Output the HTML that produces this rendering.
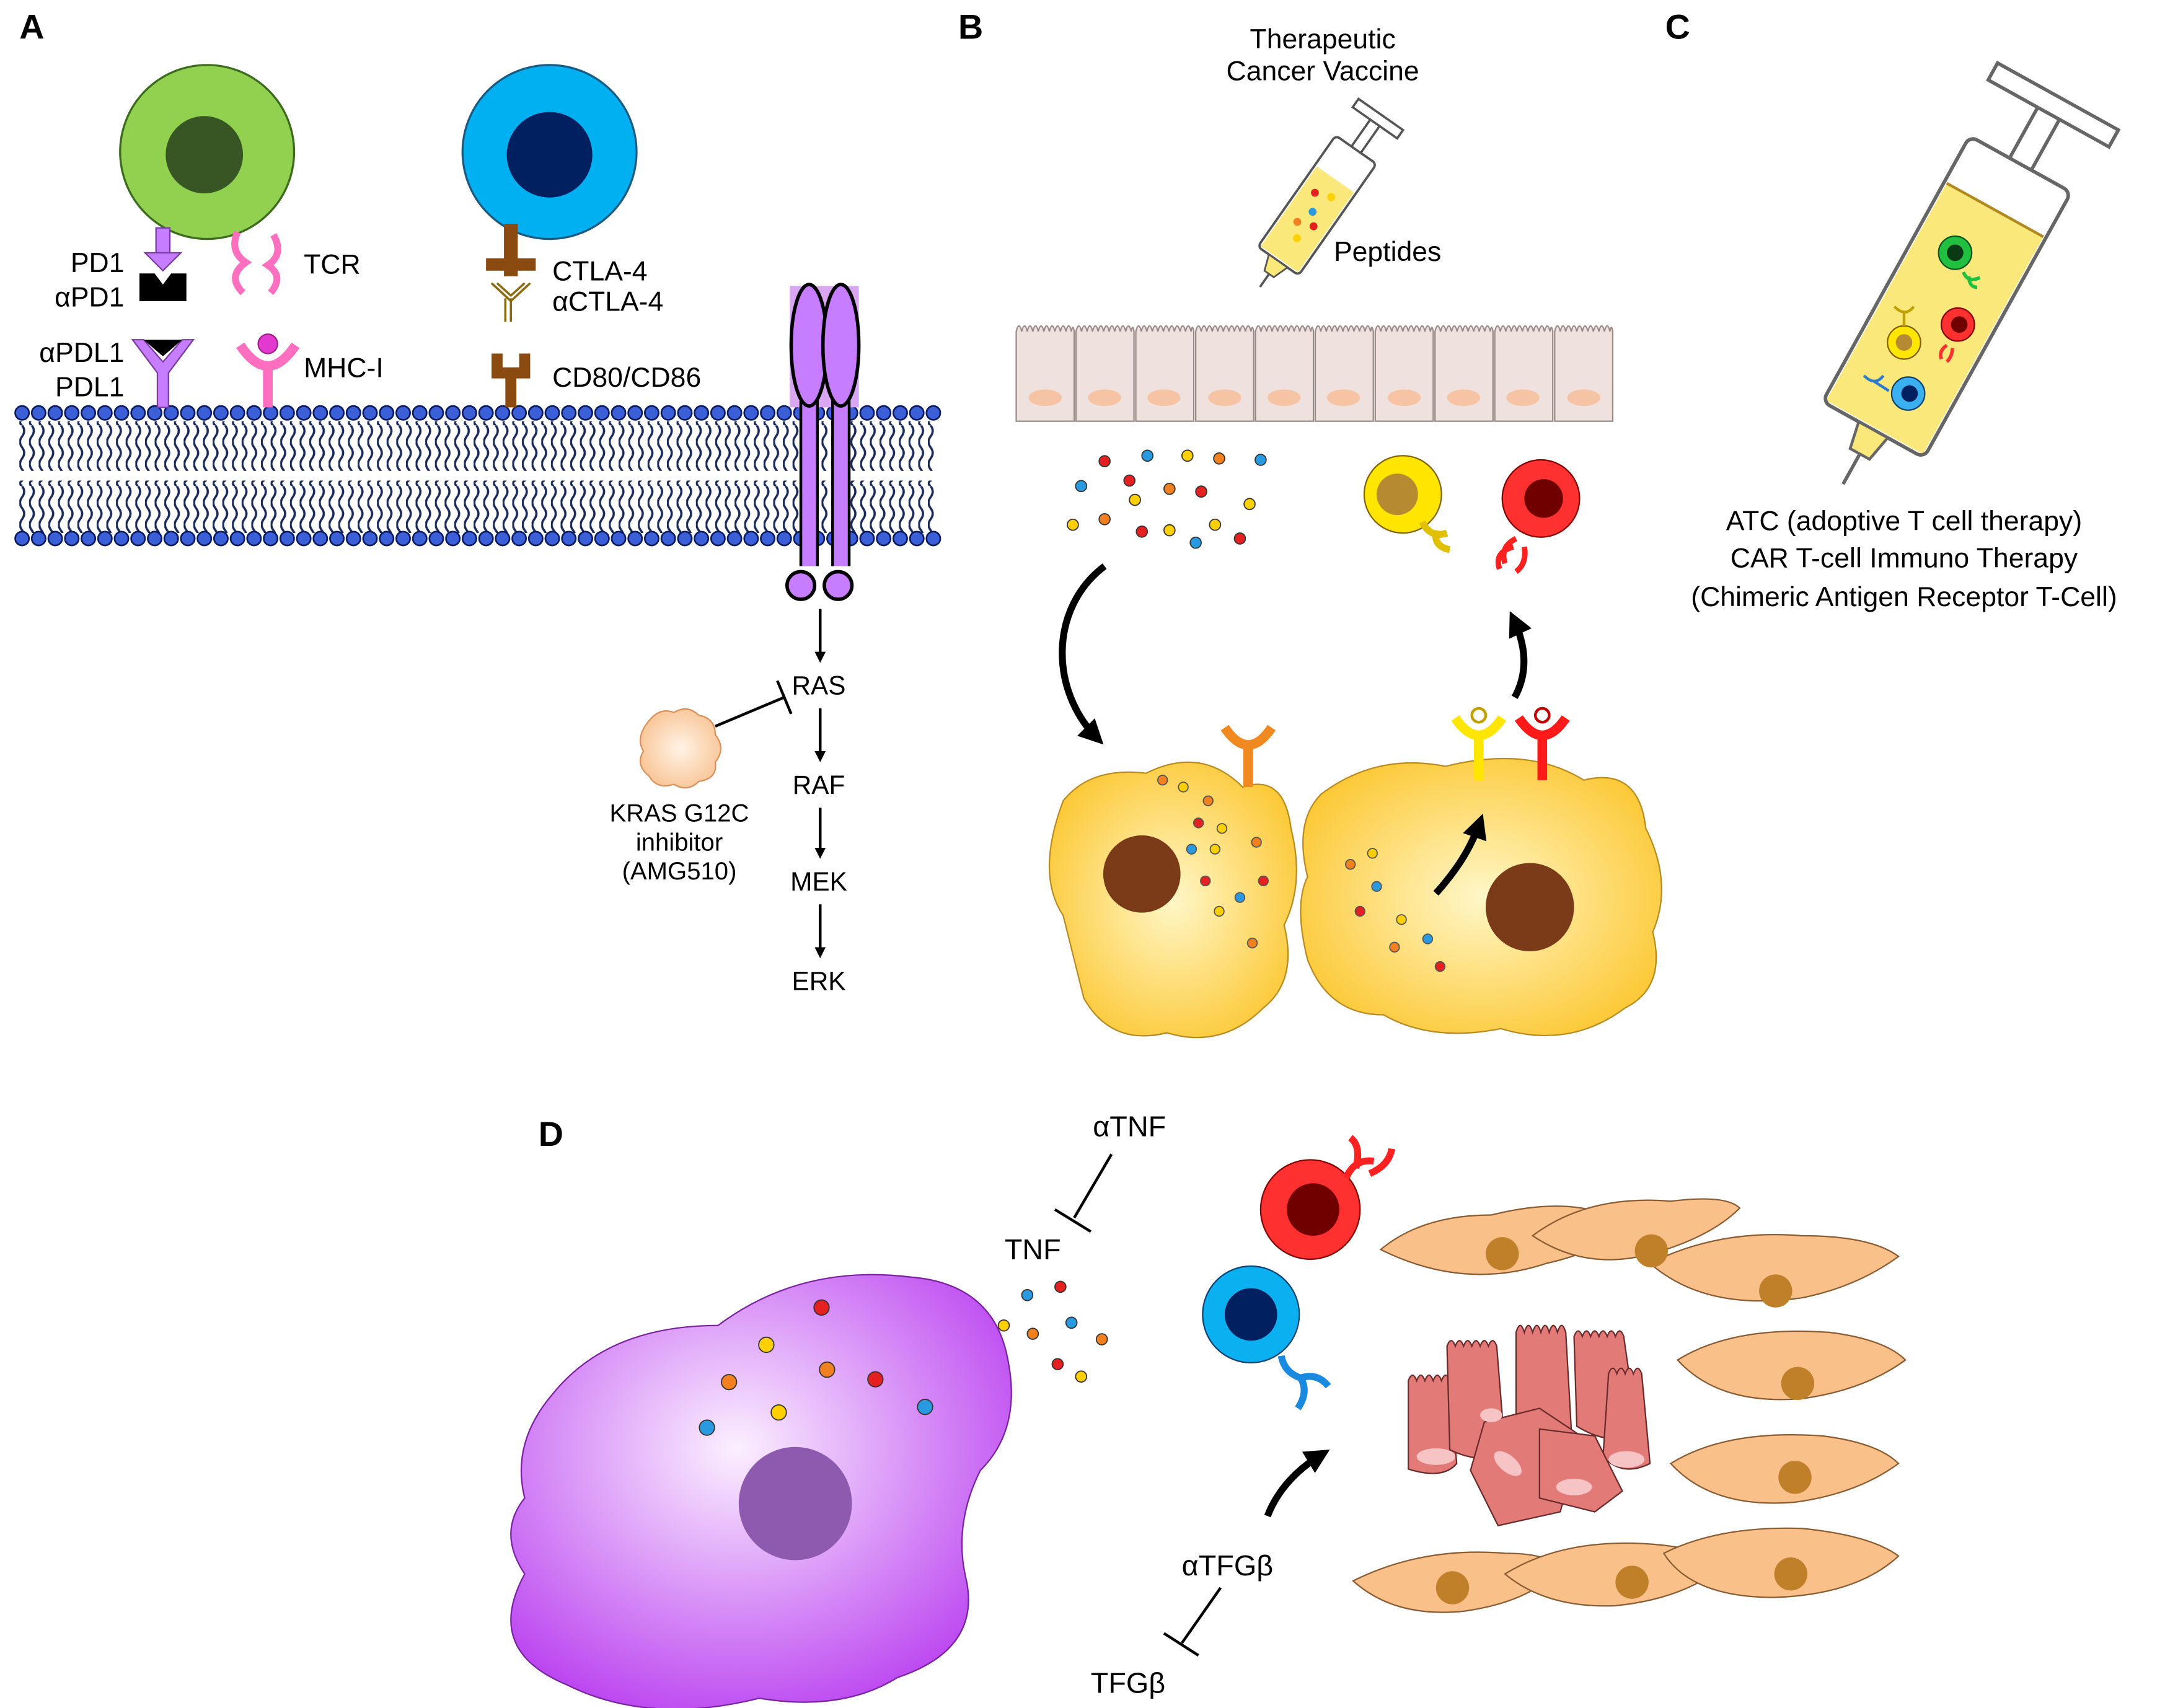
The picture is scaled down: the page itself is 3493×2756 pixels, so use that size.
<!DOCTYPE html>
<html><head><meta charset="utf-8"><style>
html,body{margin:0;padding:0;background:#fff}
svg{display:block}
text{font-family:"Liberation Sans",Arial,sans-serif;fill:#000}
</style></head><body>
<svg width="3493" height="2756" viewBox="0 0 1568 1237" xmlns="http://www.w3.org/2000/svg">
<defs>
<pattern id="tails" width="7" height="44" patternUnits="userSpaceOnUse">
<path d="M2,0 q3,4 0,8 q-3,4 0,8 q3,4 0,8 q-3,4 0,8 q3,4 0,8 q-3,2 0,4" fill="none" stroke="#1a2a5a" stroke-width="1.6"/>
</pattern>
<radialGradient id="yel" cx="50%" cy="50%" r="60%"><stop offset="0" stop-color="#fff7c8"/><stop offset="1" stop-color="#fcc62e"/></radialGradient>
<radialGradient id="pur" cx="45%" cy="40%" r="65%"><stop offset="0" stop-color="#fbf0ff"/><stop offset="1" stop-color="#bb44f0"/></radialGradient>
<radialGradient id="kras" cx="50%" cy="50%" r="60%"><stop offset="0" stop-color="#fff3e6"/><stop offset="1" stop-color="#f8c08e"/></radialGradient>
<marker id="ah" markerWidth="8" markerHeight="8" refX="6" refY="4" orient="auto" markerUnits="userSpaceOnUse"><path d="M0,0 L8,4 L0,8 z" fill="#000"/></marker>
<marker id="bh" markerWidth="18" markerHeight="18" refX="12" refY="9" orient="auto" markerUnits="userSpaceOnUse"><path d="M0,0 L18,9 L0,18 z" fill="#000"/></marker>
</defs>

<g font-weight="bold" font-size="25">
<text x="14" y="28">A</text><text x="694" y="28">B</text><text x="1206" y="28">C</text><text x="390" y="830">D</text>
</g>

<!-- PANEL A -->
<circle cx="150" cy="110" r="63" fill="#92d050" stroke="#3c6b1e" stroke-width="1.5"/>
<circle cx="148" cy="112" r="28" fill="#375623"/>
<circle cx="398" cy="110" r="63" fill="#00b0f0" stroke="#1a5a80" stroke-width="1.5"/>
<circle cx="398" cy="112" r="31" fill="#002060"/>

<rect x="12" y="305" width="666" height="36" fill="url(#tails)"/>
<rect x="12" y="348" width="666" height="38" fill="url(#tails)"/>
<g fill="#3a5fd6" stroke="#0a1a60" stroke-width="1.2">
<g id="beads">
<circle cx="16" cy="299" r="5"/><circle cx="28" cy="299" r="5"/><circle cx="40" cy="299" r="5"/><circle cx="52" cy="299" r="5"/><circle cx="64" cy="299" r="5"/><circle cx="76" cy="299" r="5"/><circle cx="88" cy="299" r="5"/><circle cx="100" cy="299" r="5"/><circle cx="112" cy="299" r="5"/><circle cx="124" cy="299" r="5"/><circle cx="136" cy="299" r="5"/><circle cx="148" cy="299" r="5"/><circle cx="160" cy="299" r="5"/><circle cx="172" cy="299" r="5"/><circle cx="184" cy="299" r="5"/><circle cx="196" cy="299" r="5"/><circle cx="208" cy="299" r="5"/><circle cx="220" cy="299" r="5"/><circle cx="232" cy="299" r="5"/><circle cx="244" cy="299" r="5"/><circle cx="256" cy="299" r="5"/><circle cx="268" cy="299" r="5"/><circle cx="280" cy="299" r="5"/><circle cx="292" cy="299" r="5"/><circle cx="304" cy="299" r="5"/><circle cx="316" cy="299" r="5"/><circle cx="328" cy="299" r="5"/><circle cx="340" cy="299" r="5"/><circle cx="352" cy="299" r="5"/><circle cx="364" cy="299" r="5"/><circle cx="376" cy="299" r="5"/><circle cx="388" cy="299" r="5"/><circle cx="400" cy="299" r="5"/><circle cx="412" cy="299" r="5"/><circle cx="424" cy="299" r="5"/><circle cx="436" cy="299" r="5"/><circle cx="448" cy="299" r="5"/><circle cx="460" cy="299" r="5"/><circle cx="472" cy="299" r="5"/><circle cx="484" cy="299" r="5"/><circle cx="496" cy="299" r="5"/><circle cx="508" cy="299" r="5"/><circle cx="520" cy="299" r="5"/><circle cx="532" cy="299" r="5"/><circle cx="544" cy="299" r="5"/><circle cx="556" cy="299" r="5"/><circle cx="568" cy="299" r="5"/><circle cx="580" cy="299" r="5"/><circle cx="592" cy="299" r="5"/><circle cx="604" cy="299" r="5"/><circle cx="616" cy="299" r="5"/><circle cx="628" cy="299" r="5"/><circle cx="640" cy="299" r="5"/><circle cx="652" cy="299" r="5"/><circle cx="664" cy="299" r="5"/><circle cx="676" cy="299" r="5"/>
</g>
<use href="#beads" y="91"/>
</g>

<rect x="113" y="165" width="10" height="20" fill="#c77dff" stroke="#7a3aa0"/>
<path d="M105,183 L131,183 L118,196 z" fill="#c77dff" stroke="#7a3aa0"/>
<path d="M101,198 L112,198 L118,206 L124,198 L135,198 L135,218 L101,218 z" fill="#000"/>
<text x="90" y="197" font-size="20" text-anchor="end">PD1</text>
<text x="90" y="222" font-size="20" text-anchor="end">αPD1</text>
<path d="M96,246 L104,246 L118,262 L132,246 L140,246 L122,270 L122,295 L114,295 L114,270 z" fill="#c77dff" stroke="#7a3aa0"/>
<path d="M104,246 L132,246 L118,258 z" fill="#000"/>
<text x="90" y="262" font-size="20" text-anchor="end">αPDL1</text>
<text x="90" y="287" font-size="20" text-anchor="end">PDL1</text>
<path d="M172,168 q-6,14 6,22 q-14,10 -2,22 M198,170 q8,14 -4,22 q12,8 2,20" fill="none" stroke="#ff6fc0" stroke-width="5"/>
<text x="220" y="198" font-size="20">TCR</text>
<path d="M174,250 q20,30 40,0 M194,266 L194,295" fill="none" stroke="#ff6fc0" stroke-width="7"/>
<circle cx="194" cy="249" r="7" fill="#e23ad0" stroke="#a0208a"/>
<text x="220" y="273" font-size="20">MHC-I</text>
<rect x="365" y="162" width="10" height="38" fill="#8b4a10"/>
<rect x="352" y="187" width="36" height="9" fill="#8b4a10"/>
<path d="M356,205 L370,218 L384,205 M360,205 L370,214 L380,205 M370,216 L370,233 M366,216 L366,233" fill="none" stroke="#8b6a10" stroke-width="1.6"/>
<text x="400" y="203" font-size="20">CTLA-4</text>
<text x="400" y="225" font-size="20">αCTLA-4</text>
<path d="M356,256 L364,256 L364,266 L376,266 L376,256 L384,256 L384,274 L374,274 L374,295 L366,295 L366,274 L356,274 z" fill="#8b4a10"/>
<text x="400" y="280" font-size="20">CD80/CD86</text>
<rect x="572" y="207" width="50" height="88" fill="#d9a6f2"/>
<line x1="586" y1="290" x2="586" y2="410" stroke="#000" stroke-width="14"/>
<line x1="586" y1="290" x2="586" y2="410" stroke="#c77dff" stroke-width="10"/>
<line x1="609" y1="290" x2="609" y2="410" stroke="#000" stroke-width="14"/>
<line x1="609" y1="290" x2="609" y2="410" stroke="#c77dff" stroke-width="10"/>
<ellipse cx="586" cy="250" rx="13" ry="44" fill="#c77dff" stroke="#000" stroke-width="2.5"/>
<ellipse cx="609" cy="250" rx="13" ry="44" fill="#c77dff" stroke="#000" stroke-width="2.5"/>
<circle cx="580" cy="424" r="10" fill="#c77dff" stroke="#000" stroke-width="2.5"/>
<circle cx="607" cy="424" r="10" fill="#c77dff" stroke="#000" stroke-width="2.5"/>
<g stroke="#000" stroke-width="2" marker-end="url(#ah)">
<line x1="594" y1="441" x2="594" y2="478"/><line x1="594" y1="513" x2="594" y2="550"/>
<line x1="594" y1="585" x2="594" y2="620"/><line x1="594" y1="655" x2="594" y2="692"/>
</g>
<g font-size="19" text-anchor="middle"><text x="593" y="503">RAS</text><text x="593" y="575">RAF</text><text x="593" y="645">MEK</text><text x="593" y="717">ERK</text></g>
<line x1="518" y1="526" x2="568" y2="505" stroke="#000" stroke-width="2"/>
<line x1="563" y1="493" x2="573" y2="517" stroke="#000" stroke-width="2"/>
<path d="M470,522 q8,-10 18,-6 q10,-6 18,2 q12,2 12,14 q8,10 0,20 q2,12 -12,14 q-8,8 -18,2 q-12,4 -18,-6 q-10,-8 -4,-18 q-6,-10 4,-22 z" fill="url(#kras)" stroke="#d9905a"/>
<g font-size="18" text-anchor="middle"><text x="492" y="595">KRAS G12C</text><text x="492" y="616">inhibitor</text><text x="492" y="637">(AMG510)</text></g>

<!-- PANEL B -->
<g font-size="20" text-anchor="middle"><text x="958" y="35">Therapeutic</text><text x="958" y="58">Cancer Vaccine</text></g>
<g transform="translate(953,150) rotate(35) scale(0.82)">
<rect x="-22" y="-62" width="44" height="120" rx="4" fill="#fff" stroke="#555" stroke-width="2"/>
<rect x="-20" y="-30" width="40" height="86" fill="#fbe87a"/>
<rect x="-22" y="-62" width="44" height="120" rx="4" fill="none" stroke="#555" stroke-width="2"/>
<rect x="-5" y="-92" width="10" height="30" fill="#fff" stroke="#555" stroke-width="2"/>
<rect x="-24" y="-100" width="48" height="9" fill="#fff" stroke="#555" stroke-width="2"/>
<path d="M-10,58 L10,58 L5,72 L-5,72 z" fill="#fbe87a" stroke="#555" stroke-width="1.5"/>
<line x1="0" y1="72" x2="0" y2="86" stroke="#555" stroke-width="2"/>
<circle cx="-8" cy="-10" r="3.5" fill="#e52020"/><circle cx="6" cy="-15" r="3.5" fill="#ffd000"/><circle cx="0" cy="5" r="3.5" fill="#2a9ae0"/><circle cx="-6" cy="20" r="3.5" fill="#f08020"/><circle cx="8" cy="15" r="3.5" fill="#e52020"/><circle cx="2" cy="32" r="3.5" fill="#ffd000"/>
</g>
<text x="966" y="189" font-size="20">Peptides</text>
<g fill="#efe2de" stroke="#9a8a86" stroke-width="1">
<path id="ep" d="M736,305 L736,240 q2,-8 4,0 q2,-8 4,0 q2,-8 4,0 q2,-8 4,0 q2,-8 4,0 q2,-8 4,0 q2,-8 4,0 q2,-8 4,0 q2,-8 4,0 q2,-8 4,0 q1,-6 2,0 L778,305 z"/>
<use href="#ep" x="43.3"/><use href="#ep" x="86.6"/><use href="#ep" x="130"/><use href="#ep" x="173.3"/><use href="#ep" x="216.6"/><use href="#ep" x="260"/><use href="#ep" x="303.3"/><use href="#ep" x="346.6"/><use href="#ep" x="390"/>
</g>
<g fill="#f6c4a4"><ellipse cx="757" cy="288" rx="12" ry="6"/><ellipse cx="800" cy="288" rx="12" ry="6"/><ellipse cx="843" cy="288" rx="12" ry="6"/><ellipse cx="887" cy="288" rx="12" ry="6"/><ellipse cx="930" cy="288" rx="12" ry="6"/><ellipse cx="973" cy="288" rx="12" ry="6"/><ellipse cx="1017" cy="288" rx="12" ry="6"/><ellipse cx="1060" cy="288" rx="12" ry="6"/><ellipse cx="1103" cy="288" rx="12" ry="6"/><ellipse cx="1147" cy="288" rx="12" ry="6"/></g>
<g stroke="#333" stroke-width="0.8">
<circle cx="800" cy="334" r="4" fill="#e52020"/><circle cx="831" cy="330" r="4" fill="#2a9ae0"/><circle cx="860" cy="330" r="4" fill="#ffd000"/><circle cx="883" cy="332" r="4" fill="#f08020"/><circle cx="913" cy="333" r="4" fill="#2a9ae0"/><circle cx="783" cy="352" r="4" fill="#2a9ae0"/><circle cx="818" cy="348" r="4" fill="#e52020"/><circle cx="847" cy="354" r="4" fill="#f08020"/><circle cx="870" cy="356" r="4" fill="#e52020"/><circle cx="822" cy="362" r="4" fill="#ffd000"/><circle cx="905" cy="365" r="4" fill="#ffd000"/><circle cx="777" cy="380" r="4" fill="#ffd000"/><circle cx="800" cy="376" r="4" fill="#f08020"/><circle cx="827" cy="385" r="4" fill="#e52020"/><circle cx="847" cy="384" r="4" fill="#ffd000"/><circle cx="866" cy="393" r="4" fill="#2a9ae0"/><circle cx="880" cy="380" r="4" fill="#ffd000"/><circle cx="898" cy="390" r="4" fill="#e52020"/>
</g>
<path d="M800,410 C760,440 760,500 795,535" fill="none" stroke="#000" stroke-width="5" marker-end="url(#bh)"/>
<path d="M1097,505 C1108,485 1104,465 1096,448" fill="none" stroke="#000" stroke-width="5" marker-end="url(#bh)"/>
<circle cx="1016" cy="358" r="28" fill="#ffe600" stroke="#806000"/><circle cx="1012" cy="358" r="15" fill="#b58a30"/>
<path d="M1030,378 q6,12 18,8 M1040,384 q-2,12 10,14" fill="none" stroke="#e0c000" stroke-width="5"/>
<circle cx="1116" cy="361" r="28" fill="#ff3030" stroke="#800000"/><circle cx="1118" cy="361" r="14" fill="#700000"/>
<path d="M1098,390 q-12,6 -8,18 M1104,396 q2,12 -6,18 M1096,396 q-14,4 -10,16" fill="none" stroke="#ff2020" stroke-width="4"/>
<path d="M770,580 q20,-25 60,-20 q40,-20 70,10 q30,-10 35,30 q10,40 -5,70 q10,40 -15,60 q-30,30 -70,18 q-40,10 -60,-25 q-10,-40 -15,-60 q-20,-30 0,-83 z" fill="url(#yel)" stroke="#b88a20"/>
<circle cx="827" cy="633" r="28" fill="#7b3a18"/>
<path d="M957,575 q40,-30 90,-20 q60,-15 100,10 q40,-10 45,35 q20,40 5,75 q10,40 -20,55 q-40,30 -90,15 q-50,10 -85,-10 q-40,0 -55,-40 q-10,-40 0,-60 q-10,-40 10,-60 z" fill="url(#yel)" stroke="#b88a20"/>
<circle cx="1108" cy="657" r="32" fill="#7b3a18"/>
<path d="M887,527 q17,25 34,0 M904,540 L904,570" fill="none" stroke="#f08a20" stroke-width="7"/>
<path d="M1054,520 q17,25 34,0 M1071,534 L1071,565" fill="none" stroke="#ffe600" stroke-width="7"/>
<circle cx="1071" cy="518" r="5" fill="#fff" stroke="#c0a000" stroke-width="2"/>
<path d="M1100,520 q17,25 34,0 M1117,534 L1117,565" fill="none" stroke="#ff1a1a" stroke-width="7"/>
<circle cx="1117" cy="518" r="5" fill="#fff" stroke="#c00000" stroke-width="2"/>
<path d="M1040,647 C1055,630 1065,615 1072,595" fill="none" stroke="#000" stroke-width="5" marker-end="url(#bh)"/>
<g stroke="#555" stroke-width="0.8">
<circle cx="842" cy="565" r="3.5" fill="#f08020"/><circle cx="857" cy="570" r="3.5" fill="#ffd000"/><circle cx="875" cy="580" r="3.5" fill="#f08020"/><circle cx="868" cy="596" r="3.5" fill="#e52020"/><circle cx="885" cy="600" r="3.5" fill="#ffd000"/><circle cx="863" cy="615" r="3.5" fill="#2a9ae0"/><circle cx="880" cy="615" r="3.5" fill="#ffd000"/><circle cx="910" cy="610" r="3.5" fill="#f08020"/><circle cx="873" cy="638" r="3.5" fill="#e52020"/><circle cx="898" cy="650" r="3.5" fill="#2a9ae0"/><circle cx="915" cy="638" r="3.5" fill="#e52020"/><circle cx="883" cy="660" r="3.5" fill="#ffd000"/><circle cx="907" cy="683" r="3.5" fill="#f08020"/>
<circle cx="994" cy="618" r="3.5" fill="#ffd000"/><circle cx="978" cy="626" r="3.5" fill="#f08020"/><circle cx="997" cy="642" r="3.5" fill="#2a9ae0"/><circle cx="985" cy="660" r="3.5" fill="#e52020"/><circle cx="1015" cy="666" r="3.5" fill="#ffd000"/><circle cx="1034" cy="680" r="3.5" fill="#2a9ae0"/><circle cx="1010" cy="686" r="3.5" fill="#f08020"/><circle cx="1043" cy="700" r="3.5" fill="#e52020"/>
</g>

<!-- PANEL C -->
<g transform="translate(1410,215) rotate(29)">
<rect x="-42" y="-110" width="84" height="220" rx="6" fill="#fff" stroke="#666" stroke-width="2.5"/>
<rect x="-40" y="-72" width="80" height="180" fill="#fbe87a"/>
<line x1="-40" y1="-72" x2="40" y2="-72" stroke="#b08a20" stroke-width="2"/>
<rect x="-42" y="-110" width="84" height="220" rx="6" fill="none" stroke="#666" stroke-width="2.5"/>
<rect x="-9" y="-152" width="18" height="42" fill="#fff" stroke="#666" stroke-width="2.5"/>
<rect x="-50" y="-166" width="100" height="14" fill="#fff" stroke="#666" stroke-width="2.5"/>
<path d="M-12,110 L12,110 L8,130 L-8,130 z" fill="#fbe87a" stroke="#666" stroke-width="2"/>
<line x1="0" y1="130" x2="0" y2="155" stroke="#666" stroke-width="2.5"/>
</g>
<circle cx="1416" cy="183" r="12" fill="#22c040" stroke="#0a5020"/><circle cx="1416" cy="183" r="6" fill="#0a3a14"/>
<path d="M1422,197 q3,8 12,4 M1426,200 q0,8 6,8" fill="none" stroke="#22c040" stroke-width="2.5"/>
<circle cx="1418" cy="235" r="12" fill="#ff3030" stroke="#800000"/><circle cx="1419" cy="235" r="6" fill="#700000"/>
<path d="M1410,250 q-6,4 -4,10 M1414,252 q0,6 -4,10" fill="none" stroke="#ff3030" stroke-width="2.5"/>
<circle cx="1379" cy="248" r="12" fill="#ffe600" stroke="#806000"/><circle cx="1379" cy="248" r="6" fill="#b58a30"/>
<path d="M1372,222 q8,8 14,0 M1379,226 L1379,236" fill="none" stroke="#c0a000" stroke-width="2"/>
<circle cx="1382" cy="285" r="12" fill="#3ab0f0" stroke="#104070"/><circle cx="1383" cy="285" r="6" fill="#002060"/>
<path d="M1350,272 q8,8 14,0 M1357,276 L1368,283" fill="none" stroke="#2a7ad0" stroke-width="2"/>
<g font-size="20" text-anchor="middle"><text x="1379" y="384">ATC (adoptive T cell therapy)</text><text x="1379" y="411">CAR T-cell Immuno Therapy</text><text x="1379" y="439">(Chimeric Antigen Receptor T-Cell)</text></g>

<!-- PANEL D -->
<text x="818" y="823" font-size="21" text-anchor="middle">αTNF</text>
<line x1="805" y1="836" x2="778" y2="882" stroke="#000" stroke-width="2"/>
<line x1="764" y1="876" x2="790" y2="892" stroke="#000" stroke-width="2"/>
<text x="748" y="912" font-size="21" text-anchor="middle">TNF</text>
<g stroke="#333" stroke-width="0.8">
<circle cx="744" cy="938" r="4" fill="#2a9ae0"/><circle cx="768" cy="932" r="4" fill="#e52020"/><circle cx="727" cy="960" r="4" fill="#ffd000"/><circle cx="748" cy="966" r="4" fill="#f08020"/><circle cx="776" cy="958" r="4" fill="#2a9ae0"/><circle cx="798" cy="970" r="4" fill="#f08020"/><circle cx="766" cy="988" r="4" fill="#e52020"/><circle cx="783" cy="997" r="4" fill="#ffd000"/>
</g>
<path d="M400,1010 q40,-50 120,-50 q60,-45 140,-35 q60,5 70,60 q10,50 -20,80 q-20,40 -10,80 q10,50 -50,70 q-40,25 -100,15 q-80,20 -140,-10 q-60,-25 -30,-80 q-20,-30 0,-55 q-10,-40 20,-75 z" fill="url(#pur)" stroke="#7a20a0" stroke-width="1"/>
<circle cx="576" cy="1089" r="41" fill="#8e5ab0"/>
<g stroke="#333" stroke-width="0.8">
<circle cx="595" cy="947" r="5.5" fill="#e52020"/><circle cx="555" cy="974" r="5.5" fill="#ffd000"/><circle cx="599" cy="992" r="5.5" fill="#f08020"/><circle cx="634" cy="999" r="5.5" fill="#e52020"/><circle cx="528" cy="1001" r="5.5" fill="#f08020"/><circle cx="670" cy="1019" r="5.5" fill="#2a9ae0"/><circle cx="564" cy="1023" r="5.5" fill="#ffd000"/><circle cx="512" cy="1034" r="5.5" fill="#2a9ae0"/>
</g>
<circle cx="949" cy="876" r="36" fill="#ff3030" stroke="#800000"/><circle cx="951" cy="876" r="19" fill="#700000"/>
<path d="M975,853 q6,-14 20,-12 M982,846 q4,-16 -4,-22 M992,850 q14,-6 16,-18" fill="none" stroke="#ff2020" stroke-width="5"/>
<circle cx="906" cy="952" r="35" fill="#0ab0f0" stroke="#104070"/><circle cx="906" cy="952" r="19" fill="#002060"/>
<path d="M928,982 q2,12 14,16 q6,10 -2,22 M942,998 q12,-4 20,6" fill="none" stroke="#1a8ae0" stroke-width="5"/>
<g fill="#f9c08a" stroke="#8a5a30" stroke-width="1">
<path d="M1000,905 q30,-25 80,-25 q60,-15 95,5 q-10,20 -55,30 q-60,20 -120,-10 z"/>
<path d="M1110,895 q40,-30 100,-25 q40,-5 50,5 q-20,20 -60,32 q-50,15 -90,-12 z"/>
<path d="M1195,915 q50,-25 110,-20 q50,0 70,15 q-30,22 -70,30 q-70,10 -110,-25 z"/>
<path d="M1215,985 q40,-25 110,-20 q40,5 55,20 q-30,22 -75,28 q-60,5 -90,-28 z"/>
<path d="M1210,1060 q40,-25 110,-20 q40,5 55,20 q-30,22 -75,28 q-60,5 -90,-28 z"/>
<path d="M980,1145 q50,-25 110,-20 q30,0 40,10 q-20,25 -70,32 q-50,5 -80,-22 z"/>
<path d="M1090,1140 q40,-25 100,-22 q40,2 60,15 q-30,25 -80,30 q-50,2 -80,-23 z"/>
<path d="M1205,1125 q40,-20 100,-18 q50,5 70,20 q-30,28 -90,30 q-60,0 -80,-32 z"/>
</g>
<g fill="#c0802a"><circle cx="1088" cy="908" r="12"/><circle cx="1196" cy="906" r="12"/><circle cx="1286" cy="935" r="12"/><circle cx="1302" cy="1002" r="12"/><circle cx="1300" cy="1070" r="12"/><circle cx="1052" cy="1150" r="12"/><circle cx="1182" cy="1146" r="12"/><circle cx="1297" cy="1140" r="12"/></g>
<g fill="#e27a78" stroke="#6a2a2a" stroke-width="1">
<path d="M1020,1000 q3,-8 6,0 q3,-8 6,0 q3,-8 6,0 q3,-8 6,0 q3,-8 6,0 l5,60 q-10,12 -35,4 z"/>
<path d="M1048,975 q3,-8 6,0 q3,-8 6,0 q3,-8 6,0 q3,-8 6,0 q3,-8 6,0 q3,-8 6,0 l6,75 q-15,12 -40,0 z"/>
<path d="M1098,965 q3,-10 6,0 q3,-10 6,0 q3,-10 6,0 q3,-10 6,0 q3,-10 6,0 q3,-10 6,0 l4,70 q-20,12 -40,0 z"/>
<path d="M1140,968 q3,-8 6,0 q3,-8 6,0 q3,-8 6,0 q3,-8 6,0 q3,-8 6,0 q3,-8 6,0 l10,70 q-20,10 -44,-5 z"/>
<path d="M1165,995 q3,-8 6,0 q3,-8 6,0 q3,-8 6,0 q3,-8 6,0 l6,65 q-20,10 -34,-5 z"/>
<path d="M1075,1030 l40,-10 l30,20 l-15,55 l-45,10 l-20,-40 z"/>
<path d="M1115,1035 l40,5 l20,40 l-20,15 l-40,-10 z"/>
</g>
<g fill="#f6c4c4"><ellipse cx="1040" cy="1055" rx="14" ry="6"/><ellipse cx="1092" cy="1060" rx="12" ry="6" transform="rotate(40 1092 1060)"/><ellipse cx="1140" cy="1077" rx="13" ry="6"/><ellipse cx="1178" cy="1057" rx="13" ry="6"/><ellipse cx="1080" cy="1025" rx="8" ry="5"/></g>
<path d="M918,1098 C925,1080 938,1065 958,1053" fill="none" stroke="#000" stroke-width="5" marker-end="url(#bh)"/>
<text x="889" y="1141" font-size="21" text-anchor="middle">αTFGβ</text>
<line x1="884" y1="1150" x2="856" y2="1190" stroke="#000" stroke-width="2"/>
<line x1="843" y1="1183" x2="868" y2="1199" stroke="#000" stroke-width="2"/>
<text x="817" y="1226" font-size="21" text-anchor="middle">TFGβ</text>
</svg>
</body></html>
